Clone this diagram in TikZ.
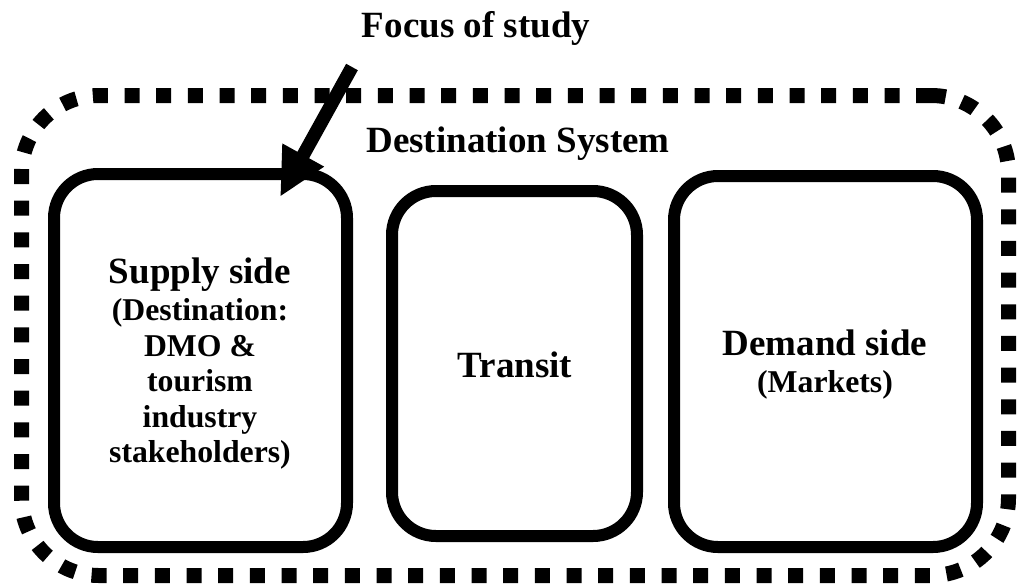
\documentclass[tikz,border=0pt]{standalone}
\usepackage{fontspec}
\setmainfont{Liberation Serif}
\usetikzlibrary{arrows.meta}
\begin{document}
\begin{tikzpicture}[x=0.75pt,y=-0.75pt,
  bigtext/.style={font=\fontsize{27.75}{33}\selectfont\bfseries, anchor=base, inner sep=0pt},
  smalltext/.style={font=\fontsize{23.8}{27}\selectfont\bfseries, anchor=base, inner sep=0pt},
  panel/.style={draw, line width=9pt, rounded corners=33pt, inner sep=0pt},
  system/.style={draw, line width=11.25pt, dash pattern=on 11.25pt off 12.5pt,
                 rounded corners=58pt, inner sep=0pt},
  pointer/.style={line width=10pt, -{Triangle[length=36pt,width=33pt]}}
]
\useasboundingbox (0,0) rectangle (1018,583);

% dotted boundary of the whole system
\node[system, minimum width=740.25pt, minimum height=360pt] (sys) at (515,335.5) {};

% the three parts
\node[panel, minimum width=219.75pt, minimum height=279.75pt] (supply) at (200.5,360.5) {};
\node[panel, minimum width=183.75pt, minimum height=258.75pt] (transit) at (514.5,363.5) {};
\node[panel, minimum width=227.25pt, minimum height=278.25pt] (demand) at (825.5,361.5) {};

% headings
\node[bigtext] (focus) at (476,37) {Focus of study};
\node[bigtext] (systitle) at (518,152) {Destination System};

% supply side text
\node[bigtext]   (s1) at (200,283)   {Supply side};
\node[smalltext] (s2) at (200,320.5) {(Destination:};
\node[smalltext] (s3) at (200,356)   {DMO \&};
\node[smalltext] (s4) at (200,391.5) {tourism};
\node[smalltext] (s5) at (200,427)   {industry};
\node[smalltext] (s6) at (200,462.5) {stakeholders)};

% transit text
\node[bigtext] (t1) at (515,377) {Transit};

% demand side text
\node[bigtext]   (d1) at (825,355) {Demand side};
\node[smalltext] (d2) at (825,392) {(Markets)};

% arrow pointing at the supply side
\coordinate (focustail) at (352,67);
\coordinate (focustip) at (280,197);
\draw[pointer] (focustail) -- (focustip);
\end{tikzpicture}
\end{document}
